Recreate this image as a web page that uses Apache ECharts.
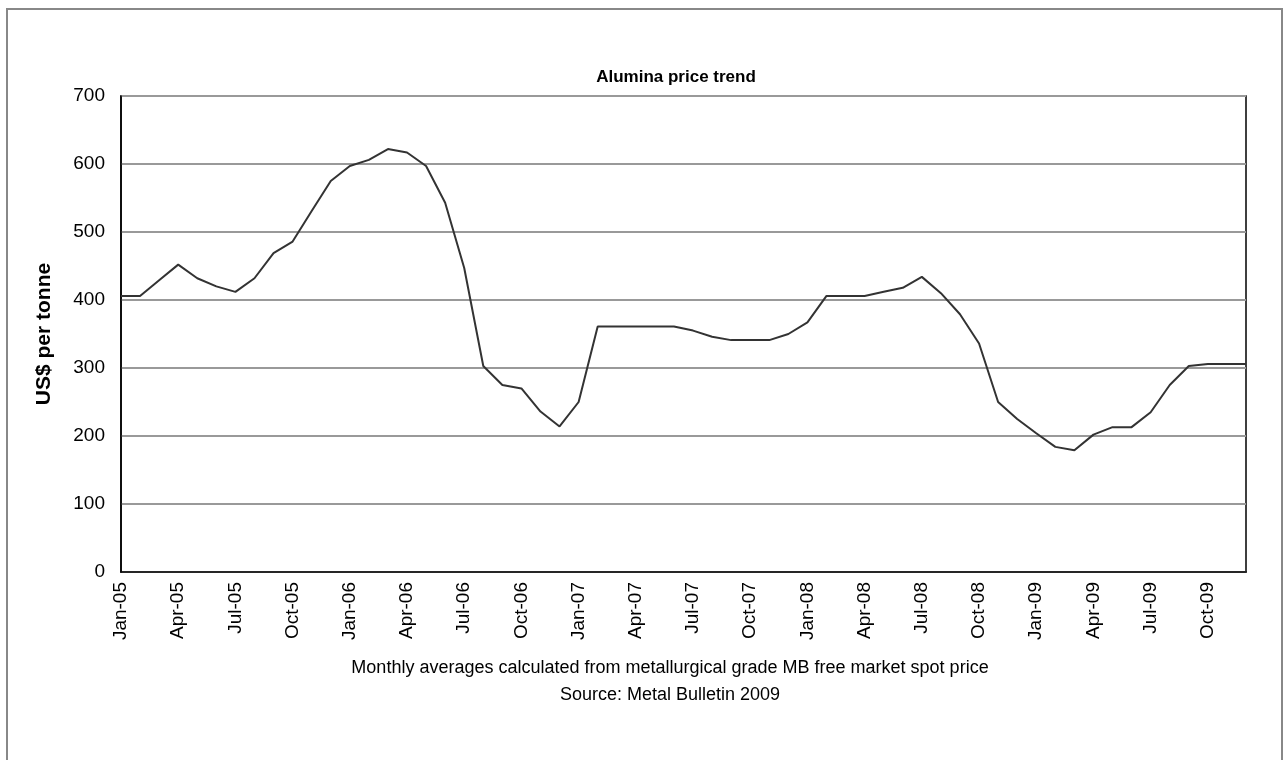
<!DOCTYPE html>
<html>
<head>
<meta charset="utf-8">
<script src="https://cdn.jsdelivr.net/npm/echarts@6/dist/echarts.min.js"></script>
<style>
  html, body { margin: 0; padding: 0; background: #fff; }
  #chart { width: 1285px; height: 760px; }
</style>
</head>
<body>
<div id="chart"></div>
<script>
// monthly categories Jan-05 .. Dec-09
var months = ['Jan', 'Feb', 'Mar', 'Apr', 'May', 'Jun', 'Jul', 'Aug', 'Sep', 'Oct', 'Nov', 'Dec'];
var years = ['05', '06', '07', '08', '09'];
var categories = [];
years.forEach(function (y) {
  months.forEach(function (m) { categories.push(m + '-' + y); });
});

// US$ per tonne
var prices = [
  406, 406, 429, 452, 432, 420, 412, 432, 469, 486, 531, 575,
  597, 606, 622, 617, 597, 543, 447, 303, 275, 270, 236, 214,
  250, 361, 361, 361, 361, 361, 355, 346, 341, 341, 341, 350,
  367, 406, 406, 406, 412, 418, 434, 410, 379, 336, 250, 225,
  204, 184, 179, 202, 213, 213, 235, 275, 303, 306, 306, 306
];

var footFont = '18px "Liberation Sans", Arial, sans-serif';

var chart = echarts.init(document.getElementById('chart'));
chart.setOption({
  backgroundColor: '#fff',
  animation: false,
  textStyle: { fontFamily: 'Liberation Sans, Arial, sans-serif' },
  title: {
    text: 'Alumina price trend',
    left: 671,
    top: 64,
    textAlign: 'center',
    textStyle: { fontSize: 17, fontWeight: 'bold', color: '#000' }
  },
  grid: {
    left: 121,
    right: 39,
    top: 96,
    bottom: 188,
    show: true,
    borderColor: '#000',
    borderWidth: 1.5,
    backgroundColor: '#fff'
  },
  xAxis: {
    type: 'category',
    data: categories,
    boundaryGap: false,
    axisLine: { lineStyle: { color: '#000', width: 1.5 } },
    axisTick: { show: false },
    axisLabel: {
      interval: 2,
      rotate: 90,
      margin: 10,
      color: '#000',
      fontSize: 19
    },
    splitLine: { show: false }
  },
  yAxis: {
    type: 'value',
    min: 0,
    max: 700,
    interval: 100,
    name: 'US$ per tonne',
    nameLocation: 'middle',
    nameGap: 66,
    nameTextStyle: { fontSize: 21, fontWeight: 'bold', color: '#000' },
    axisLine: { show: true, lineStyle: { color: '#000', width: 1.5 } },
    axisTick: { show: false },
    axisLabel: { color: '#000', fontSize: 19, margin: 16 },
    splitLine: { lineStyle: { color: '#999', width: 2 } }
  },
  series: [{
    type: 'line',
    data: prices,
    showSymbol: false,
    lineStyle: { color: '#333', width: 2 },
    z: 3
  }],
  graphic: [
    {
      type: 'rect',
      shape: { x: 7, y: 9, width: 1275, height: 760 },
      style: { fill: 'none', stroke: '#888', lineWidth: 2 },
      silent: true
    },
    {
      type: 'text',
      x: 670,
      y: 668,
      style: {
        text: 'Monthly averages calculated from metallurgical grade MB free market spot price',
        font: footFont,
        fill: '#000',
        align: 'center',
        verticalAlign: 'middle'
      }
    },
    {
      type: 'text',
      x: 670,
      y: 695,
      style: {
        text: 'Source: Metal Bulletin 2009',
        font: footFont,
        fill: '#000',
        align: 'center',
        verticalAlign: 'middle'
      }
    }
  ]
});
</script>
</body>
</html>
